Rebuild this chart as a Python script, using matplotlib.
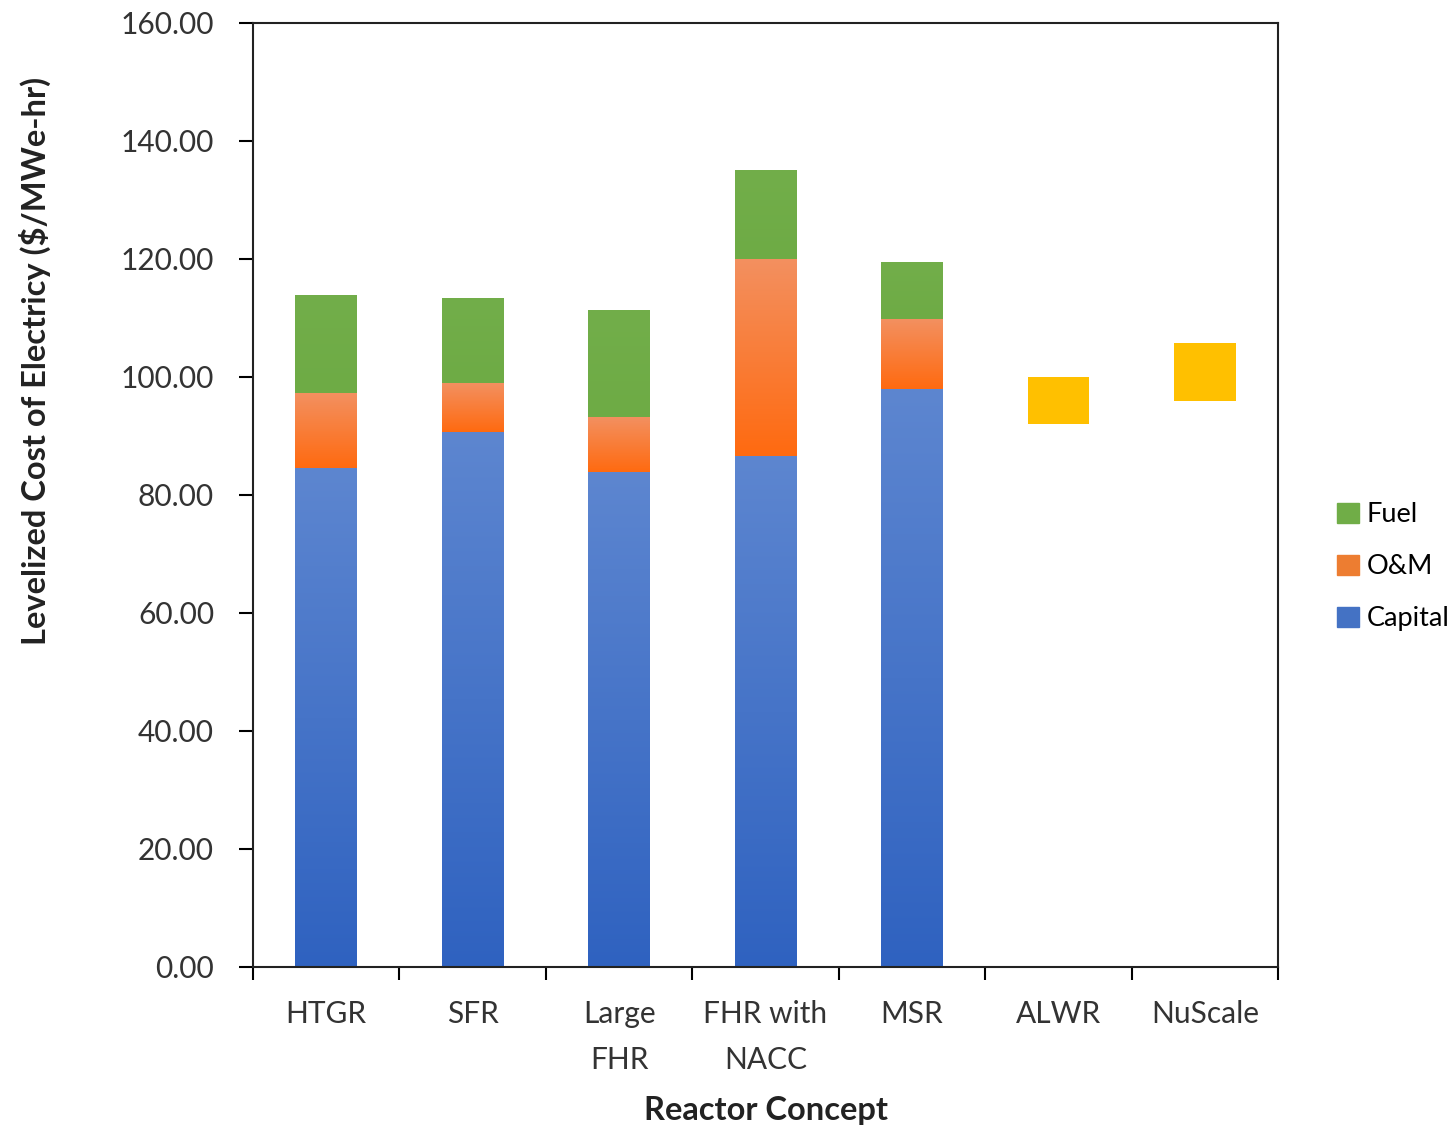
import numpy as np
import matplotlib
matplotlib.use("Agg")
import matplotlib.pyplot as plt
from matplotlib.colors import LinearSegmentedColormap
from matplotlib.patches import Patch

plt.rcParams['font.family'] = ['Lato', 'DejaVu Sans']

categories = ["HTGR", "SFR", "Large\nFHR", "FHR with\nNACC", "MSR", "ALWR", "NuScale"]
capital = [84.5, 90.7, 83.8, 86.5, 97.9, 0, 0]
om = [12.7, 8.2, 9.3, 33.4, 11.8, 0, 0]
fuel = [16.6, 14.4, 18.0, 15.0, 9.5, 0, 0]
range_low = [0, 0, 0, 0, 0, 92.0, 95.8]
range_high = [0, 0, 0, 0, 0, 99.9, 105.7]
yticks = [0, 20, 40, 60, 80, 100, 120, 140, 160]

fig = plt.figure(figsize=(14.54, 11.27), dpi=100)
ax = fig.add_axes([0.174, 0.142, 0.705, 0.838])

x = np.arange(len(categories))
w = 0.42

grads = {
    'Capital': ("#2f62c0", "#5d86d0"),
    'O&M': ("#ff6a10", "#f39060"),
    'Fuel': ("#6eab45", "#72ae4a"),
}
solid = {'Capital': "#4472C4", 'O&M': "#ED7D31", 'Fuel': "#70AD47"}

def grad_bar(xc, bottom, height, key):
    if height <= 0:
        return
    c0, c1 = grads[key]
    cmap = LinearSegmentedColormap.from_list(key, [c0, c1])
    g = np.linspace(0, 1, 256).reshape(-1, 1)
    ax.imshow(g, cmap=cmap, origin='lower', aspect='auto',
              extent=(xc - w / 2, xc + w / 2, bottom, bottom + height),
              interpolation='bilinear', zorder=2)

cap_arr = np.array(capital)
om_arr = np.array(om)
fuel_arr = np.array(fuel)
for i in range(len(categories)):
    grad_bar(x[i], 0, cap_arr[i], 'Capital')
    grad_bar(x[i], cap_arr[i], om_arr[i], 'O&M')
    grad_bar(x[i], cap_arr[i] + om_arr[i], fuel_arr[i], 'Fuel')

low = np.array(range_low)
high = np.array(range_high)
ax.bar(x, high - low, w, bottom=low, color="#FFC000", zorder=2)

ax.set_xlim(-0.5, len(categories) - 0.5)
ax.set_ylim(0, 160)
ax.set_yticks(yticks)
ax.set_yticklabels([f"{v:.2f}" for v in yticks], fontsize=21.5, color="#333333")
ax.set_xticks(x)
ax.set_xticklabels(categories, fontsize=21.5, color="#333333", linespacing=1.75)
ax.set_xticks(np.arange(-0.5, len(categories)), minor=True)
ax.tick_params(axis='x', which='major', length=0, pad=24)
ax.tick_params(axis='x', which='minor', length=9, width=1.5, direction='out')
ax.tick_params(axis='y', length=10, width=1.5, direction='out', pad=18)
for s in ax.spines.values():
    s.set_linewidth(1.5)
    s.set_color("#222222")

ax.set_ylabel("Levelized Cost of Electricy ($/MWe-hr)", fontsize=23.5,
              fontweight='bold', color="#222222")
ax.yaxis.set_label_coords(-0.197, 0.642)
ax.set_xlabel("Reactor Concept", fontsize=23.5, fontweight='bold',
              color="#222222", labelpad=16)

handles = [Patch(color=solid['Fuel'], label='Fuel'),
           Patch(color=solid['O&M'], label='O&M'),
           Patch(color=solid['Capital'], label='Capital')]
fig.legend(handles=handles, loc='center left', bbox_to_anchor=(0.912, 0.497),
           frameon=False, fontsize=19.5, handlelength=0.8, handleheight=0.8,
           handletextpad=0.3, labelspacing=1.0, borderaxespad=0)

fig.savefig("out.png", dpi=100)
